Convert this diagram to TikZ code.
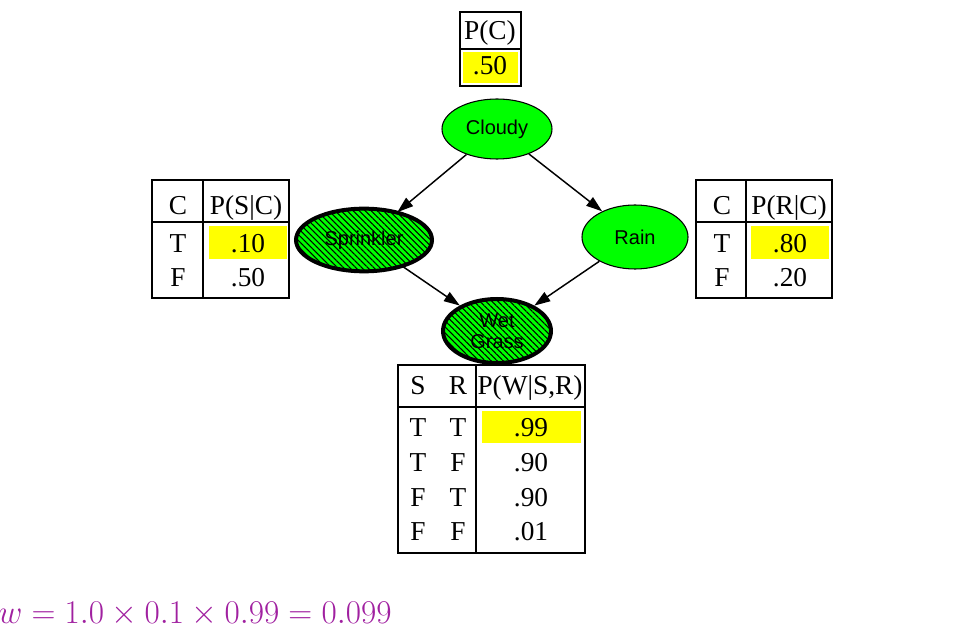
\documentclass[tikz,border=0pt]{standalone}
\usepackage[no-math]{fontspec}
\setmainfont{Liberation Serif}
\setsansfont{Liberation Sans}
\usetikzlibrary{shapes.geometric,patterns.meta,arrows.meta}
\definecolor{nodegreen}{RGB}{0,255,0}
\definecolor{cellyellow}{RGB}{255,255,0}
\definecolor{wpurple}{RGB}{160,32,160}
\begin{document}
\begin{tikzpicture}[x=0.75pt, y=-0.75pt, >={Triangle[length=12pt,width=8pt]},
  every node/.style={font=\fontsize{20.5}{24}\selectfont, inner sep=0pt},
  var/.style={draw, ellipse, fill=nodegreen, line width=0.8pt, align=center, font=\sffamily\fontsize{15}{16}\selectfont},
  obs/.style={draw, ellipse, line width=3pt, preaction={fill=nodegreen}, pattern={Lines[angle=-45, distance=3.2pt, line width=0.8pt]}, pattern color=black, align=center, font=\sffamily\fontsize{15}{16}\selectfont},
  cell/.style={anchor=base},
  tab/.style={line width=1pt}]
\useasboundingbox (0,0) rectangle (974,630);

% network
\node[var, minimum width=82.5pt, minimum height=45pt] (cloudy) at (497,129) {Cloudy};
\node[obs, minimum width=102pt, minimum height=47pt] (sprinkler) at (364,240) {Sprinkler};
\node[var, minimum width=79.5pt, minimum height=48pt] (rain) at (635,237) {Rain};
\node[obs, minimum width=81pt, minimum height=48pt] (wet) at (497,331) {Wet\\Grass};
\draw[->, line width=1.1pt] (cloudy) -- (sprinkler);
\draw[->, line width=1.1pt] (cloudy) -- (rain);
\draw[->, line width=1.1pt] (sprinkler) -- (wet);
\draw[->, line width=1.1pt] (rain) -- (wet);

% P(C)
\fill[cellyellow] (463,52) rectangle (518,83);
\draw[tab] (460,12) rectangle (521,86);
\draw[tab] (460,49) -- (521,49);
\node[cell] (pc) at (490,40) {P(C)};
\node[cell] (pcv) at (490,75) {.50};

% P(S|C)
\fill[cellyellow] (209,226) rectangle (287,259);
\draw[tab] (152,180) rectangle (289,298);
\draw[tab] (203,180) -- (203,298);
\draw[tab] (152,222) -- (289,222);
\node[cell] (sc) at (178,215) {C};
\node[cell] (sp) at (246,215) {P(S|C)};
\node[cell] (st) at (178,253) {T};
\node[cell] (stv) at (248,253) {.10};
\node[cell] (sf) at (178,287) {F};
\node[cell] (sfv) at (248,287) {.50};

% P(R|C)
\fill[cellyellow] (751,226) rectangle (829,259);
\draw[tab] (696,180) rectangle (832,298);
\draw[tab] (746,180) -- (746,298);
\draw[tab] (696,222) -- (832,222);
\node[cell] (rc) at (722,215) {C};
\node[cell] (rp) at (789,215) {P(R|C)};
\node[cell] (rt) at (722,253) {T};
\node[cell] (rtv) at (790,253) {.80};
\node[cell] (rf) at (722,287) {F};
\node[cell] (rfv) at (790,287) {.20};

% P(W|S,R)
\fill[cellyellow] (482,411) rectangle (581,443);
\draw[tab] (398,365) rectangle (585,553);
\draw[tab] (476,365) -- (476,553);
\draw[tab] (398,407) -- (585,407);
\node[cell] (ws) at (418,395) {S};
\node[cell] (wr) at (458,395) {R};
\node[cell] (wp) at (530,395) {P(W|S,R)};
\node[cell] (ws1) at (418,437) {T};
\node[cell] (wr1) at (458,437) {T};
\node[cell] (wv1) at (531,437) {.99};
\node[cell] (ws2) at (418,472) {T};
\node[cell] (wr2) at (458,472) {F};
\node[cell] (wv2) at (531,472) {.90};
\node[cell] (ws3) at (418,506) {F};
\node[cell] (wr3) at (458,506) {T};
\node[cell] (wv3) at (531,506) {.90};
\node[cell] (ws4) at (418,540) {F};
\node[cell] (wr4) at (458,540) {F};
\node[cell] (wv4) at (531,540) {.01};

% weight
\node[anchor=base west, text=wpurple, font=\fontsize{23.2}{28}\selectfont] (weight) at (-2,623) {$w = 1.0 \times 0.1 \times 0.99 = 0.099$};
\end{tikzpicture}
\end{document}
